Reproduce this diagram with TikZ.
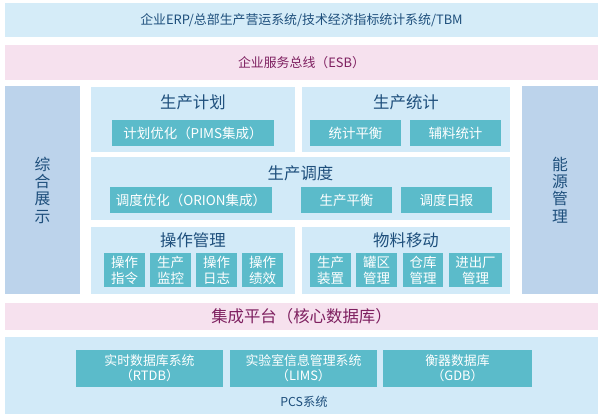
\documentclass[tikz,border=0pt]{standalone}
\usepackage{fontspec}
\newfontfamily\cjk{Noto Sans CJK SC}
\definecolor{topblue}{HTML}{D5ECF8}
\definecolor{esbpink}{HTML}{F6E1EE}
\definecolor{sideblue}{HTML}{BCD3EB}
\definecolor{panelblue}{HTML}{D2EAF8}
\definecolor{itemteal}{HTML}{5BBBCA}
\definecolor{titleblue}{HTML}{1E4F7C}
\definecolor{esbtext}{HTML}{7E2060}

\begin{document}
\begin{tikzpicture}[x=0.03cm, y=-0.03cm]
  \tikzset{band/.style = {shape=rectangle, minimum width=17.79cm, inner sep=0pt, font=\cjk\fontsize{11}{13}\selectfont},
           panel/.style = {shape=rectangle, fill=panelblue, inner sep=0pt},
           side/.style = {shape=rectangle, fill=sideblue, inner sep=0pt, minimum height=6.24cm, align=center, text=titleblue, font=\cjk\fontsize{13.5}{14.8}\selectfont},
           title/.style = {text=titleblue, inner sep=0pt, font=\cjk\fontsize{14}{16}\selectfont},
           item/.style = {shape=rectangle, fill=itemteal, text=white, inner sep=0pt, align=center, minimum height=0.78cm, font=\cjk\fontsize{11.5}{13.7}\selectfont},
           small/.style = {item, minimum width=1.23cm, minimum height=1.02cm}}

  \fill[white] (0,0) rectangle (603,418);
  \useasboundingbox (0,0) rectangle (603,418);

  % 상단 두 줄
  \node[band, fill=topblue, minimum height=1.02cm, text=titleblue] (erp) at (301.5,20) {企业ERP/总部生产营运系统/技术经济指标统计系统/TBM};
  \node[band, fill=esbpink, minimum height=1.05cm, text=esbtext] (esb) at (301.5,62.5) {企业服务总线（ESB）};

  % 양쪽 기둥
  \node[side, minimum width=2.25cm] (show) at (42.5,190) {综\\合\\展\\示};
  \node[side, minimum width=2.28cm] (energy) at (560,190) {能\\源\\管\\理};

  % 가운데 패널
  \node[panel, minimum width=6.12cm, minimum height=1.95cm] (plan) at (193,119.5) {};
  \node[panel, minimum width=6.24cm, minimum height=1.95cm] (stat) at (406,119.5) {};
  \node[panel, minimum width=12.57cm, minimum height=1.89cm] (dispatch) at (300.5,188.5) {};
  \node[panel, minimum width=6.12cm, minimum height=2.01cm] (oper) at (193,260.5) {};
  \node[panel, minimum width=6.24cm, minimum height=2.01cm] (move) at (406,260.5) {};

  \node[title] (plant) at (193,102) {生产计划};
  \node[title] (statt) at (406,102) {生产统计};
  \node[title] (dispt) at (300.5,173) {生产调度};
  \node[title] (opert) at (193,240) {操作管理};
  \node[title] (movet) at (406,240) {物料移动};

  \node[item, minimum width=4.86cm] (pims) at (193,133) {计划优化（PIMS集成）};
  \node[item, minimum width=2.73cm] (bal) at (355.5,133) {统计平衡};
  \node[item, minimum width=2.73cm] (aux) at (455.5,133) {辅料统计};
  \node[item, minimum width=4.86cm] (orion) at (191,200) {调度优化（ORION集成）};
  \node[item, minimum width=2.73cm] (pbal) at (346.5,200) {生产平衡};
  \node[item, minimum width=2.73cm] (daily) at (446.5,200) {调度日报};

  \node[small] (o1) at (124.5,270) {操作\\指令};
  \node[small] (o2) at (170.5,270) {生产\\监控};
  \node[small] (o3) at (216.5,270) {操作\\日志};
  \node[small] (o4) at (262.5,270) {操作\\绩效};
  \node[small] (m1) at (330.5,270) {生产\\装置};
  \node[small] (m2) at (376.5,270) {罐区\\管理};
  \node[small, minimum width=1.2cm] (m3) at (423,270) {仓库\\管理};
  \node[small, minimum width=1.59cm] (m4) at (475.5,270) {进出厂\\管理};

  % 하단
  \node[band, fill=esbpink, minimum height=0.81cm, text=esbtext, font=\cjk\fontsize{14}{16}\selectfont] (core) at (301.5,316.5) {集成平台（核心数据库）};
  \node[band, fill=panelblue, minimum height=2.31cm] (pcs) at (301.5,375.5) {};
  \node[text=titleblue, inner sep=0pt, font=\cjk\fontsize{10.5}{12}\selectfont] (pcst) at (304,402) {PCS系统};

  \node[item, minimum width=4.41cm, minimum height=1.11cm, font=\cjk\fontsize{11}{12.9}\selectfont] (rtdb) at (149.5,368.5) {实时数据库系统\\（RTDB）};
  \node[item, minimum width=4.41cm, minimum height=1.11cm, font=\cjk\fontsize{11}{12.9}\selectfont] (lims) at (303.5,368.5) {实验室信息管理系统\\（LIMS）};
  \node[item, minimum width=4.47cm, minimum height=1.11cm, font=\cjk\fontsize{11}{12.9}\selectfont] (gdb) at (457.5,368.5) {衡器数据库\\（GDB）};

\end{tikzpicture}
\end{document}
